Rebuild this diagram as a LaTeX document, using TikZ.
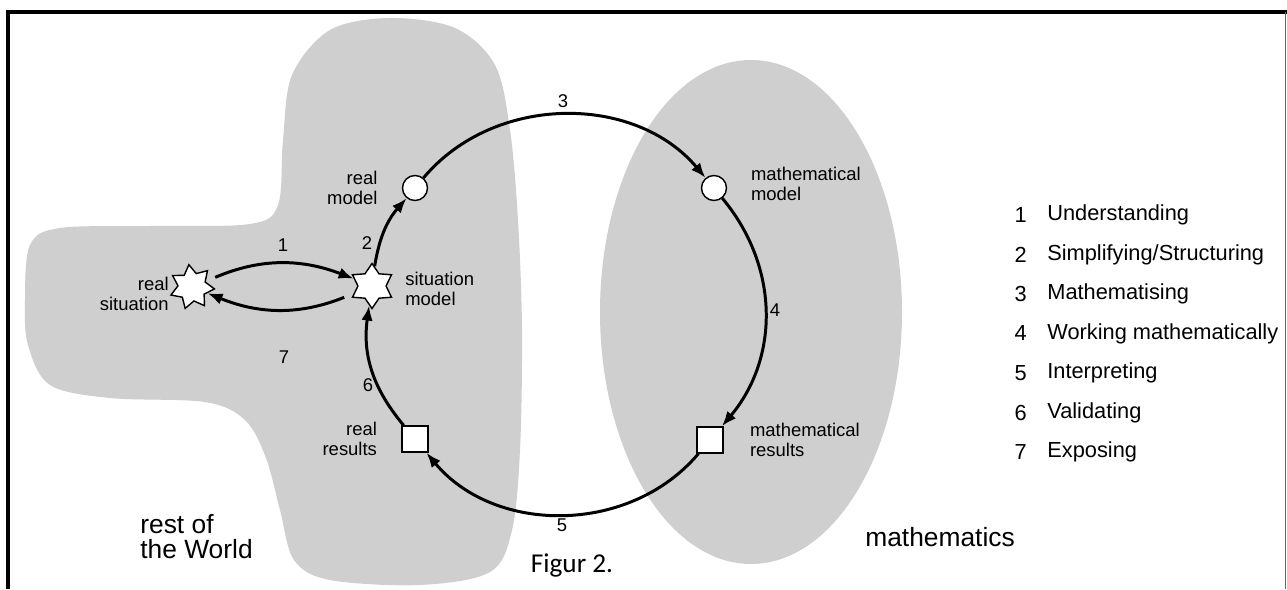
\documentclass[tikz,border=0pt]{standalone}
\usepackage{fontspec}
\setmainfont{Liberation Sans}
\newfontfamily\figfont{Carlito}
\usetikzlibrary{positioning,arrows.meta,shapes.geometric}

\begin{document}
\begin{tikzpicture}[
  x=0.2mm, y=0.2mm,
  >={Latex[length=3mm,width=2.3mm]},
  region/.style={fill=black!19},
  flow/.style={->, line width=1.7pt},
  ringnode/.style={draw, fill=white, line width=0.8pt, inner sep=0pt},
  roundnode/.style={ringnode, circle, minimum size=5mm},
  squarenode/.style={ringnode, rectangle, minimum size=5.2mm},
  starnode/.style={ringnode, star, minimum size=9mm, star point ratio=1.6},
  lbl/.style={font=\fontsize{10.5}{11}\selectfont, inner sep=0pt},
  numlbl/.style={font=\fontsize{10.5}{12}\selectfont, inner sep=0pt},
  biglbl/.style={font=\fontsize{15}{14.2}\selectfont, inner sep=0pt, align=left},
  itemlbl/.style={font=\fontsize{12.4}{13}\selectfont, inner sep=0pt},
]
  \useasboundingbox[fill=white] (0,0) rectangle (1287,589);

  % Regions
  \fill[region] plot[smooth cycle, tension=0.55] coordinates {
    (25,289) (30,344) (60,361) (150,363) (250,365) (278,384) (283,449)
    (292,514) (330,559) (390,571) (455,561) (495,524) (510,459) (518,369)
    (522,259) (520,139) (512,59) (490,17) (420,4) (330,9) (294,29)
    (280,79) (266,131) (245,169) (205,187) (110,191) (50,204) (28,244)
  };
  \fill[region] (751,277) ellipse [x radius=151, y radius=252];

  % Frame
  \draw[line width=2pt] (8,0) -- (8,577) -- (1287,577);
  \draw[black!60, line width=0.4pt] (1285,577) -- (1285,0);

  % Nodes
  \coordinate (ring) at (565,276);
  \node[starnode, star points=7, rotate=8] (rsit) at (192,302) {};
  \node[starnode, star points=6] (smod) at (372,303) {};
  \node[roundnode] (rmod) at (415,401) {};
  \node[roundnode] (mmod) at (714,401) {};
  \node[squarenode] (mres) at (710,149) {};
  \node[squarenode] (rres) at (415,150) {};

  % Node labels
  \node[lbl, align=right, anchor=east] (rsitlbl) at (169,295) {real\\situation};
  \node[lbl, align=left, anchor=west] (smodlbl) at (405,300) {situation\\model};
  \node[lbl, align=right, left=4.8mm of rmod] (rmodlbl) {real\\model};
  \node[lbl, align=left, right=4.7mm of mmod, yshift=0.8mm] (mmodlbl) {mathematical\\model};
  \node[lbl, align=left, right=5.2mm of mres] (mreslbl) {mathematical\\results};
  \node[lbl, align=right, left=4.8mm of rres] (rreslbl) {real\\results};

  % Cycle
  \draw[flow, shorten <=2mm] (rsit) to[bend left=22] (smod);
  \draw[flow, shorten <=2mm] (smod) to[bend left=22] (rsit);
  \draw[flow] (smod) to[bend left=16] (rmod);
  \draw[flow] (rmod) to[bend left=50] (mmod);
  \draw[flow] (mmod) to[bend left=40] (mres);
  \draw[flow] (mres) to[bend left=50] (rres);
  \draw[flow] (rres) to[bend left=24] (smod);

  % Step numbers
  \node[numlbl] (n1) at (283,344) {1};
  \node[numlbl] (n2) at (367,346) {2};
  \node[numlbl] (n3) at (563,488) {3};
  \node[numlbl] (n4) at (775,279) {4};
  \node[numlbl] (n5) at (562,64) {5};
  \node[numlbl] (n6) at (368,204) {6};
  \node[numlbl] (n7) at (284,232) {7};

  % Legend
  \foreach \txt [count=\i] in {Understanding, {Simplifying/Structuring},
      Mathematising, Working mathematically, Interpreting, Validating, Exposing} {
    \node[itemlbl, anchor=east] (num\i) at (1027,{374-(\i-1)*39.5}) {\i};
    \node[itemlbl, anchor=west] (item\i) at (1047,{374-(\i-1)*39.5}) {\txt};
  }

  % Region names
  \node[biglbl, anchor=west] (world) at (140,52) {rest of\\the World};
  \node[biglbl, anchor=west] (maths) at (865,52) {mathematics};
  \node[font=\figfont\fontsize{15.5}{16}\selectfont, inner sep=0pt] (caption) at (572,24) {Figur 2.};

\end{tikzpicture}
\end{document}
